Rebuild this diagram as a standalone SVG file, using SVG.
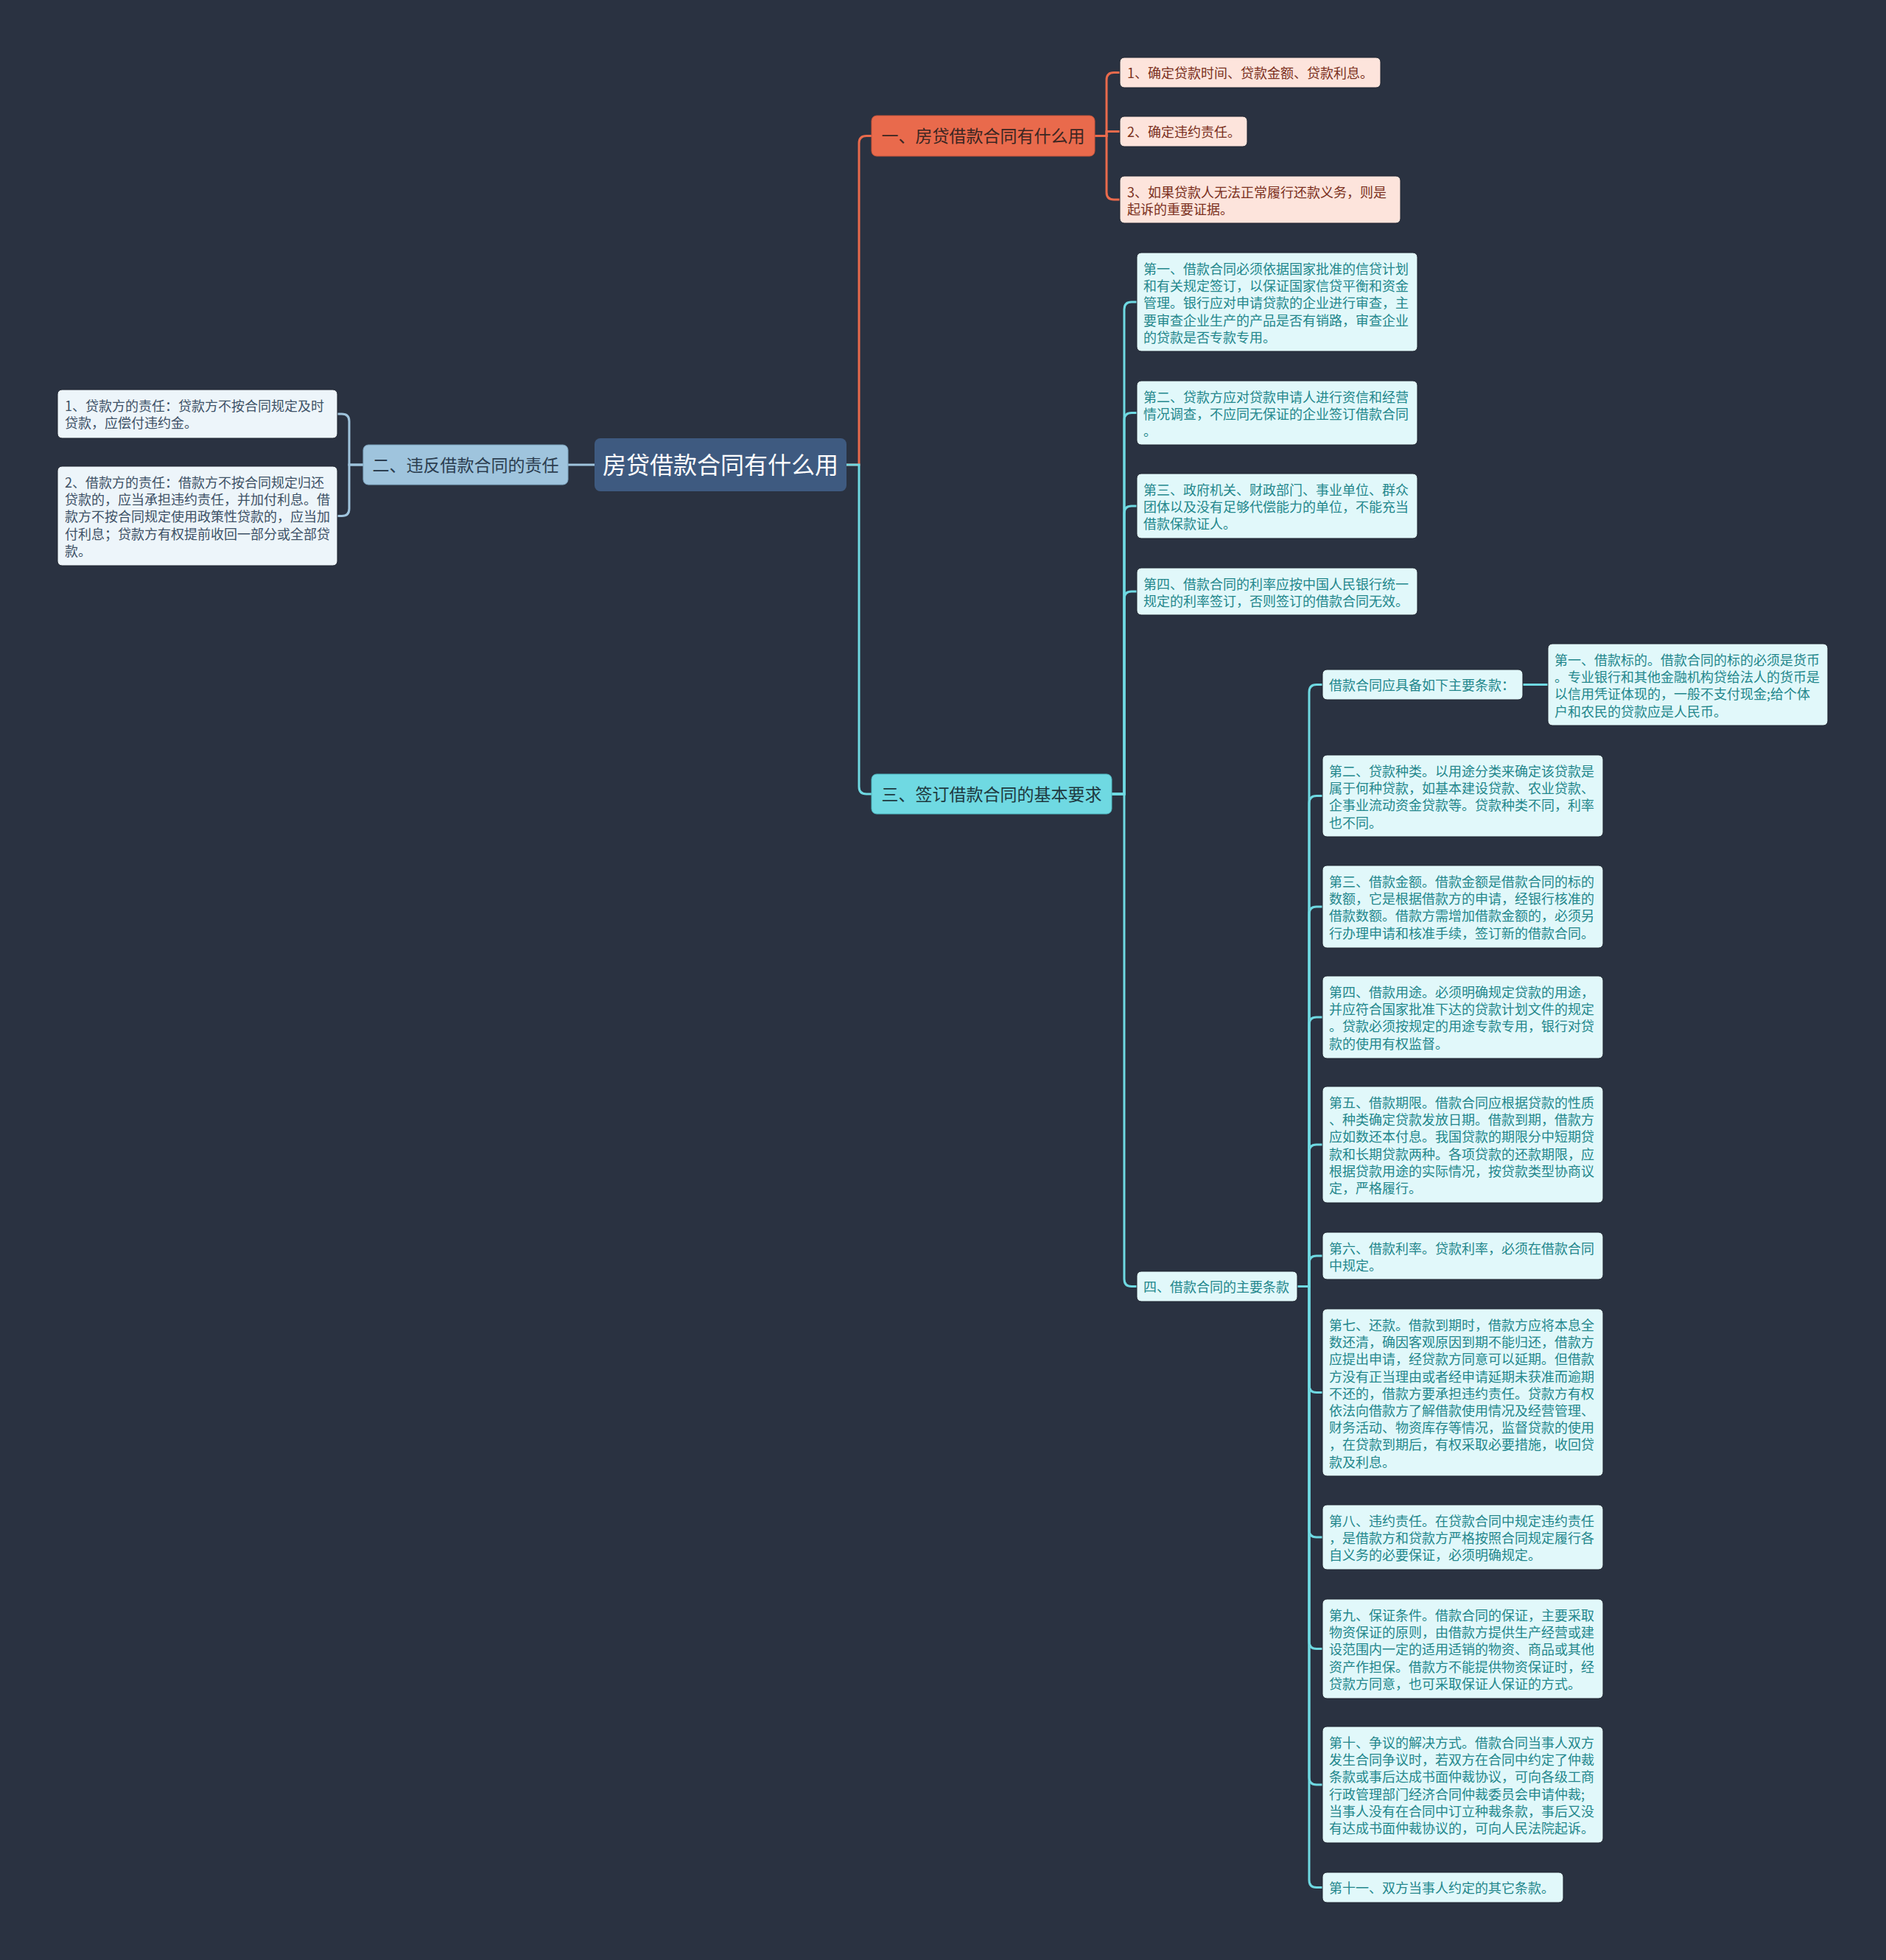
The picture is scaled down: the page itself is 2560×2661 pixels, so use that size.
<svg xmlns="http://www.w3.org/2000/svg" width="2560" height="2661" viewBox="0 0 2560 2661">
<style>
text{font-family:"Noto Sans CJK SC","Microsoft YaHei",sans-serif;}
.lo{fill:none;stroke:#e96a4c;stroke-width:3;}
.lc{fill:none;stroke:#6fd9e2;stroke-width:3;}
.lb{fill:none;stroke:#9fc4dd;stroke-width:3;}
.root rect{fill:#3e5a80;}
.root text{fill:#ffffff;font-size:32px;}
.o1 rect{fill:#e96a4c;stroke:#c9553a;stroke-width:1;}
.o1 text{fill:#3b2622;font-size:23px;}
.o2 rect{fill:#fde4dc;stroke:#1f2530;stroke-width:1;}
.o2 text{fill:#7b3020;font-size:18px;}
.c1 rect{fill:#6fd9e2;stroke:#4fb9c2;stroke-width:1;}
.c1 text{fill:#1e3a40;font-size:23px;}
.c2 rect{fill:#e1f8fa;stroke:#1f2530;stroke-width:1;}
.c2 text{fill:#23878c;font-size:18px;}
.b1 rect{fill:#9fc4dd;stroke:#7fa6c0;stroke-width:1;}
.b1 text{fill:#2c3e50;font-size:23px;}
.b2 rect{fill:#edf5fa;stroke:#1f2530;stroke-width:1;}
.b2 text{fill:#3d5166;font-size:18px;}
</style>
<rect x="0" y="0" width="2560" height="2661" fill="#2a3241"/>

<g id="connectors">
<path class="lo" d="M1149,631 H1166 V194.5 Q1166,184.5 1176,184.5 H1183"/>
<path class="lc" d="M1149,631 H1166 V1068 Q1166,1078 1176,1078 H1183"/>
<path class="lb" d="M807,631 H771"/>
<path class="lo" d="M1486,184.5 H1502 V108.5 Q1502,98.5 1512,98.5 H1520"/>
<path class="lo" d="M1486,184.5 H1502 V178.5 H1520"/>
<path class="lo" d="M1486,184.5 H1502 V261 Q1502,271 1512,271 H1520"/>
<path class="lb" d="M493,631 H474 V572 Q474,562 464,562 H458"/>
<path class="lb" d="M493,631 H474 V690.5 Q474,700.5 464,700.5 H458"/>
<path class="lc" d="M1509,1078 H1526 V420 Q1526,410 1536,410 H1543"/>
<path class="lc" d="M1509,1078 H1526 V570.5 Q1526,560.5 1536,560.5 H1543"/>
<path class="lc" d="M1509,1078 H1526 V697 Q1526,687 1536,687 H1543"/>
<path class="lc" d="M1509,1078 H1526 V813 Q1526,803 1536,803 H1543"/>
<path class="lc" d="M1509,1078 H1526 V1736.5 Q1526,1746.5 1536,1746.5 H1543"/>
<path class="lc" d="M1761,1746.5 H1777 V939.5 Q1777,929.5 1787,929.5 H1795"/>
<path class="lc" d="M1761,1746.5 H1777 V1090.5 Q1777,1080.5 1787,1080.5 H1795"/>
<path class="lc" d="M1761,1746.5 H1777 V1241 Q1777,1231 1787,1231 H1795"/>
<path class="lc" d="M1761,1746.5 H1777 V1391 Q1777,1381 1787,1381 H1795"/>
<path class="lc" d="M1761,1746.5 H1777 V1564 Q1777,1554 1787,1554 H1795"/>
<path class="lc" d="M1761,1746.5 H1777 V1715 Q1777,1705 1787,1705 H1795"/>
<path class="lc" d="M1761,1746.5 H1777 V1880.5 Q1777,1890.5 1787,1890.5 H1795"/>
<path class="lc" d="M1761,1746.5 H1777 V2077 Q1777,2087 1787,2087 H1795"/>
<path class="lc" d="M1761,1746.5 H1777 V2228.5 Q1777,2238.5 1787,2238.5 H1795"/>
<path class="lc" d="M1761,1746.5 H1777 V2413 Q1777,2423 1787,2423 H1795"/>
<path class="lc" d="M1761,1746.5 H1777 V2552.5 Q1777,2562.5 1787,2562.5 H1795"/>
<path class="lc" d="M2067,929.5 H2101"/>
</g>

<g id="root" class="root">
<rect x="807" y="595" width="342" height="72" rx="8"/>
<text x="978" y="643" text-anchor="middle">房贷借款合同有什么用</text>
</g>

<g id="n1" class="o1">
<rect x="1183" y="157" width="303" height="55" rx="7"/>
<text x="1334.5" y="193" text-anchor="middle">一、房贷借款合同有什么用</text>
</g>
<g id="n1-1" class="o2">
<rect x="1520" y="78" width="354" height="41" rx="6"/>
<text x="1530" y="105.5">1、确定贷款时间、贷款金额、贷款利息。</text>
</g>
<g id="n1-2" class="o2">
<rect x="1520" y="158" width="173" height="41" rx="6"/>
<text x="1530" y="185.5">2、确定违约责任。</text>
</g>
<g id="n1-3" class="o2">
<rect x="1520" y="239" width="381" height="64" rx="6"/>
<text x="1530" y="268"><tspan x="1530">3、如果贷款人无法正常履行还款义务，则是</tspan><tspan x="1530" dy="23.2">起诉的重要证据。</tspan></text>
</g>

<g id="n2" class="b1">
<rect x="493" y="604" width="278" height="54" rx="7"/>
<text x="632" y="639.5" text-anchor="middle">二、违反借款合同的责任</text>
</g>
<g id="n2-1" class="b2">
<rect x="78" y="529" width="380" height="66" rx="6"/>
<text x="88" y="558"><tspan x="88">1、贷款方的责任：贷款方不按合同规定及时</tspan><tspan x="88" dy="23.2">贷款，应偿付违约金。</tspan></text>
</g>
<g id="n2-2" class="b2">
<rect x="78" y="633" width="380" height="135" rx="6"/>
<text x="88" y="662"><tspan x="88">2、借款方的责任：借款方不按合同规定归还</tspan><tspan x="88" dy="23.2">贷款的，应当承担违约责任，并加付利息。借</tspan><tspan x="88" dy="23.2">款方不按合同规定使用政策性贷款的，应当加</tspan><tspan x="88" dy="23.2">付利息；贷款方有权提前收回一部分或全部贷</tspan><tspan x="88" dy="23.2">款。</tspan></text>
</g>

<g id="n3" class="c1">
<rect x="1183" y="1051" width="326" height="54" rx="7"/>
<text x="1346" y="1086.5" text-anchor="middle">三、签订借款合同的基本要求</text>
</g>
<g id="n3-1" class="c2">
<rect x="1543" y="343" width="381" height="134" rx="6"/>
<text x="1552" y="372"><tspan x="1552">第一、借款合同必须依据国家批准的信贷计划</tspan><tspan x="1552" dy="23.2">和有关规定签订，以保证国家信贷平衡和资金</tspan><tspan x="1552" dy="23.2">管理。银行应对申请贷款的企业进行审查，主</tspan><tspan x="1552" dy="23.2">要审查企业生产的产品是否有销路，审查企业</tspan><tspan x="1552" dy="23.2">的贷款是否专款专用。</tspan></text>
</g>
<g id="n3-2" class="c2">
<rect x="1543" y="517" width="381" height="87" rx="6"/>
<text x="1552" y="546"><tspan x="1552">第二、贷款方应对贷款申请人进行资信和经营</tspan><tspan x="1552" dy="23.2">情况调查，不应同无保证的企业签订借款合同</tspan><tspan x="1552" dy="23.2">。</tspan></text>
</g>
<g id="n3-3" class="c2">
<rect x="1543" y="643" width="381" height="88" rx="6"/>
<text x="1552" y="672"><tspan x="1552">第三、政府机关、财政部门、事业单位、群众</tspan><tspan x="1552" dy="23.2">团体以及没有足够代偿能力的单位，不能充当</tspan><tspan x="1552" dy="23.2">借款保款证人。</tspan></text>
</g>
<g id="n3-4" class="c2">
<rect x="1543" y="771" width="381" height="64" rx="6"/>
<text x="1552" y="800"><tspan x="1552">第四、借款合同的利率应按中国人民银行统一</tspan><tspan x="1552" dy="23.2">规定的利率签订，否则签订的借款合同无效。</tspan></text>
</g>
<g id="n4" class="c2">
<rect x="1543" y="1726" width="218" height="41" rx="6"/>
<text x="1552" y="1753.5">四、借款合同的主要条款</text>
</g>

<g id="n4-0" class="c2">
<rect x="1795" y="909" width="272" height="41" rx="6"/>
<text x="1804" y="936.5">借款合同应具备如下主要条款：</text>
</g>
<g id="n4-0-1" class="c2">
<rect x="2101" y="874" width="380" height="111" rx="6"/>
<text x="2110" y="903"><tspan x="2110">第一、借款标的。借款合同的标的必须是货币</tspan><tspan x="2110" dy="23.2">。专业银行和其他金融机构贷给法人的货币是</tspan><tspan x="2110" dy="23.2">以信用凭证体现的，一般不支付现金;给个体</tspan><tspan x="2110" dy="23.2">户和农民的贷款应是人民币。</tspan></text>
</g>
<g id="n4-2" class="c2">
<rect x="1795" y="1025" width="381" height="111" rx="6"/>
<text x="1804" y="1054"><tspan x="1804">第二、贷款种类。以用途分类来确定该贷款是</tspan><tspan x="1804" dy="23.2">属于何种贷款，如基本建设贷款、农业贷款、</tspan><tspan x="1804" dy="23.2">企事业流动资金贷款等。贷款种类不同，利率</tspan><tspan x="1804" dy="23.2">也不同。</tspan></text>
</g>
<g id="n4-3" class="c2">
<rect x="1795" y="1175" width="381" height="112" rx="6"/>
<text x="1804" y="1204"><tspan x="1804">第三、借款金额。借款金额是借款合同的标的</tspan><tspan x="1804" dy="23.2">数额，它是根据借款方的申请，经银行核准的</tspan><tspan x="1804" dy="23.2">借款数额。借款方需增加借款金额的，必须另</tspan><tspan x="1804" dy="23.2">行办理申请和核准手续，签订新的借款合同。</tspan></text>
</g>
<g id="n4-4" class="c2">
<rect x="1795" y="1325" width="381" height="112" rx="6"/>
<text x="1804" y="1354"><tspan x="1804">第四、借款用途。必须明确规定贷款的用途，</tspan><tspan x="1804" dy="23.2">并应符合国家批准下达的贷款计划文件的规定</tspan><tspan x="1804" dy="23.2">。贷款必须按规定的用途专款专用，银行对贷</tspan><tspan x="1804" dy="23.2">款的使用有权监督。</tspan></text>
</g>
<g id="n4-5" class="c2">
<rect x="1795" y="1475" width="381" height="158" rx="6"/>
<text x="1804" y="1504"><tspan x="1804">第五、借款期限。借款合同应根据贷款的性质</tspan><tspan x="1804" dy="23.2">、种类确定贷款发放日期。借款到期，借款方</tspan><tspan x="1804" dy="23.2">应如数还本付息。我国贷款的期限分中短期贷</tspan><tspan x="1804" dy="23.2">款和长期贷款两种。各项贷款的还款期限，应</tspan><tspan x="1804" dy="23.2">根据贷款用途的实际情况，按贷款类型协商议</tspan><tspan x="1804" dy="23.2">定，严格履行。</tspan></text>
</g>
<g id="n4-6" class="c2">
<rect x="1795" y="1673" width="381" height="64" rx="6"/>
<text x="1804" y="1702"><tspan x="1804">第六、借款利率。贷款利率，必须在借款合同</tspan><tspan x="1804" dy="23.2">中规定。</tspan></text>
</g>
<g id="n4-7" class="c2">
<rect x="1795" y="1777" width="381" height="227" rx="6"/>
<text x="1804" y="1806"><tspan x="1804">第七、还款。借款到期时，借款方应将本息全</tspan><tspan x="1804" dy="23.2">数还清，确因客观原因到期不能归还，借款方</tspan><tspan x="1804" dy="23.2">应提出申请，经贷款方同意可以延期。但借款</tspan><tspan x="1804" dy="23.2">方没有正当理由或者经申请延期未获准而逾期</tspan><tspan x="1804" dy="23.2">不还的，借款方要承担违约责任。贷款方有权</tspan><tspan x="1804" dy="23.2">依法向借款方了解借款使用情况及经营管理、</tspan><tspan x="1804" dy="23.2">财务活动、物资库存等情况，监督贷款的使用</tspan><tspan x="1804" dy="23.2">，在贷款到期后，有权采取必要措施，收回贷</tspan><tspan x="1804" dy="23.2">款及利息。</tspan></text>
</g>
<g id="n4-8" class="c2">
<rect x="1795" y="2043" width="381" height="88" rx="6"/>
<text x="1804" y="2072"><tspan x="1804">第八、违约责任。在贷款合同中规定违约责任</tspan><tspan x="1804" dy="23.2">，是借款方和贷款方严格按照合同规定履行各</tspan><tspan x="1804" dy="23.2">自义务的必要保证，必须明确规定。</tspan></text>
</g>
<g id="n4-9" class="c2">
<rect x="1795" y="2171" width="381" height="135" rx="6"/>
<text x="1804" y="2200"><tspan x="1804">第九、保证条件。借款合同的保证，主要采取</tspan><tspan x="1804" dy="23.2">物资保证的原则，由借款方提供生产经营或建</tspan><tspan x="1804" dy="23.2">设范围内一定的适用适销的物资、商品或其他</tspan><tspan x="1804" dy="23.2">资产作担保。借款方不能提供物资保证时，经</tspan><tspan x="1804" dy="23.2">贷款方同意，也可采取保证人保证的方式。</tspan></text>
</g>
<g id="n4-10" class="c2">
<rect x="1795" y="2344" width="381" height="158" rx="6"/>
<text x="1804" y="2373"><tspan x="1804">第十、争议的解决方式。借款合同当事人双方</tspan><tspan x="1804" dy="23.2">发生合同争议时，若双方在合同中约定了仲裁</tspan><tspan x="1804" dy="23.2">条款或事后达成书面仲裁协议，可向各级工商</tspan><tspan x="1804" dy="23.2">行政管理部门经济合同仲裁委员会申请仲裁;</tspan><tspan x="1804" dy="23.2">当事人没有在合同中订立种裁条款，事后又没</tspan><tspan x="1804" dy="23.2">有达成书面仲裁协议的，可向人民法院起诉。</tspan></text>
</g>
<g id="n4-11" class="c2">
<rect x="1795" y="2542" width="327" height="41" rx="6"/>
<text x="1804" y="2569.5">第十一、双方当事人约定的其它条款。</text>
</g>
</svg>
